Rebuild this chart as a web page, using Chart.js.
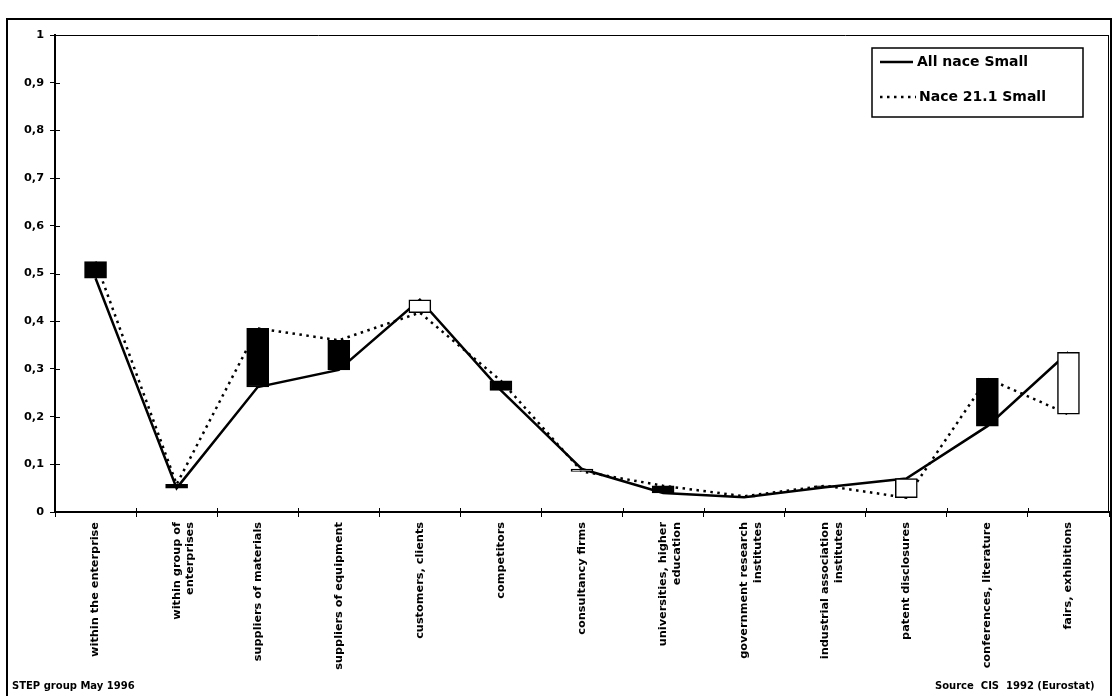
<!DOCTYPE html>
<html>
<head>
<meta charset="utf-8">
<script src="https://cdn.jsdelivr.net/npm/chart.js@4/dist/chart.umd.min.js"></script>
<style>
  body { margin: 0; background: #fff; }
  #wrap { width: 1117px; height: 696px; }
</style>
</head>
<body>
<div id="wrap"><canvas id="chart" width="1117" height="696"></canvas></div>
<script>
// sources of information, one per category on the x axis:
let categories = [
  'within the enterprise',
  ['within group of', 'enterprises'],
  'suppliers of materials',
  'suppliers of equipment',
  'customers, clients',
  'competitors',
  'consultancy firms',
  ['universities, higher', 'education'],
  ['government research', 'institutes'],
  ['industrial association', 'institutes'],
  'patent disclosures',
  'conferences, literature',
  'fairs, exhibitions'
];

// values:
let allNaceSmall = [0.49, 0.05, 0.262, 0.298, 0.445, 0.255, 0.09, 0.04, 0.031, 0.052, 0.07, 0.18, 0.335];
let nace211Small = [0.525, 0.058, 0.385, 0.36, 0.418, 0.275, 0.085, 0.055, 0.033, 0.055, 0.03, 0.28, 0.205];

// y axis tick labels, with a decimal comma:
let yTickLabels = ['0', '0,1', '0,2', '0,3', '0,4', '0,5', '0,6', '0,7', '0,8', '0,9', '1'];

let legendLabels = ['All nace Small', 'Nace 21.1 Small'];
let footLeft = 'STEP group May 1996';
let footRight = 'Source  CIS  1992 (Eurostat)';

// up-down bars between the two series: black when Nace 21.1 is higher
let upDown = allNaceSmall.map((v, i) => [Math.min(v, nace211Small[i]), Math.max(v, nace211Small[i])]);
let upDownColors = allNaceSmall.map((v, i) => nace211Small[i] > v ? '#000' : '#fff');

const FONT = "'DejaVu Sans', sans-serif";
Chart.defaults.font.family = FONT;
Chart.defaults.color = '#000';

// frame, plot border, inward tick stubs, legend and footnotes
const decorations = {
  id: 'decorations',
  afterDraw(chart) {
    const ctx = chart.ctx;
    const area = chart.chartArea;
    const x = chart.scales.x;
    const y = chart.scales.y;
    ctx.save();
    ctx.strokeStyle = '#000';

    // outer frame
    ctx.lineWidth = 2;
    ctx.strokeRect(7, 19, 1104, 700);

    // plot area top and right edges
    ctx.lineWidth = 1;
    ctx.beginPath();
    ctx.moveTo(area.left, area.top + 0.5);
    ctx.lineTo(area.right, area.top + 0.5);
    ctx.moveTo(area.right - 0.5, area.top);
    ctx.lineTo(area.right - 0.5, area.bottom);
    ctx.stroke();

    // ticks that cross into the plot
    ctx.lineWidth = 1;
    ctx.beginPath();
    for (let i = 0; i < yTickLabels.length; i++) {
      let py = Math.round(y.getPixelForValue(i / 10)) + 0.5;
      ctx.moveTo(area.left, py);
      ctx.lineTo(area.left + 5, py);
    }
    let w = (area.right - area.left) / categories.length;
    for (let i = 1; i < categories.length; i++) {
      let px = Math.round(area.left + i * w) + 0.5;
      ctx.moveTo(px, area.bottom);
      ctx.lineTo(px, area.bottom - 4);
    }
    ctx.stroke();

    // legend box
    ctx.lineWidth = 1.5;
    ctx.strokeRect(872, 48, 211, 69);
    ctx.lineWidth = 2.5;
    ctx.beginPath();
    ctx.moveTo(880, 62);
    ctx.lineTo(913, 62);
    ctx.stroke();
    ctx.lineWidth = 2.5;
    ctx.setLineDash([2.5, 4.5]);
    ctx.beginPath();
    ctx.moveTo(880, 97);
    ctx.lineTo(916, 97);
    ctx.stroke();
    ctx.setLineDash([]);
    ctx.fillStyle = '#000';
    ctx.textBaseline = 'middle';
    ctx.font = 'bold 14px ' + FONT;
    ctx.fillText(legendLabels[0], 917, 62);
    ctx.fillText(legendLabels[1], 919, 97);

    // footnotes
    ctx.font = 'bold 10px ' + FONT;
    ctx.textBaseline = 'alphabetic';
    ctx.fillText(footLeft, 12, 689);
    ctx.fillText(footRight, 935, 689);
    ctx.restore();
  }
};

const config = {
  type: 'bar',
  data: {
    labels: categories,
    datasets: [{
      type: 'bar',
      label: 'up-down',
      data: upDown,
      backgroundColor: upDownColors,
      borderColor: '#000',
      borderWidth: 1.5,
      borderSkipped: false,
      barThickness: 22,
      order: 0
    }, {
      type: 'line',
      label: legendLabels[0],
      data: allNaceSmall,
      borderColor: '#000',
      borderWidth: 2.5,
      pointRadius: 0,
      tension: 0,
      order: 1
    }, {
      type: 'line',
      label: legendLabels[1],
      data: nace211Small,
      borderColor: '#000',
      borderWidth: 2.5,
      borderDash: [2.5, 4.5],
      pointRadius: 0,
      tension: 0,
      order: 2
    }]
  },
  options: {
    responsive: false,
    animation: false,
    layout: {
      padding: { left: 0, top: 35, right: 8, bottom: 0 }
    },
    plugins: {
      legend: { display: false },
      tooltip: { enabled: false }
    },
    scales: {
      x: {
        offset: true,
        grid: {
          offset: true,
          drawOnChartArea: false,
          tickLength: 5,
          color: '#000'
        },
        border: { color: '#000', width: 2 },
        ticks: {
          autoSkip: false,
          minRotation: 90,
          maxRotation: 90,
          padding: 5,
          font: { size: 11.3, weight: 'bold' }
        },
        afterFit(scale) { scale.height = 184; }
      },
      y: {
        min: 0,
        max: 1,
        grid: {
          drawOnChartArea: false,
          tickLength: 5,
          color: '#000'
        },
        border: { color: '#000', width: 2 },
        ticks: {
          stepSize: 0.1,
          padding: 6,
          font: { size: 11.3, weight: 'bold' },
          callback: (v) => yTickLabels[Math.round(v * 10)]
        },
        afterFit(scale) { scale.width = 55; }
      }
    }
  },
  plugins: [decorations]
};

let chart = new Chart(document.getElementById('chart'), config);
</script>
</body>
</html>
